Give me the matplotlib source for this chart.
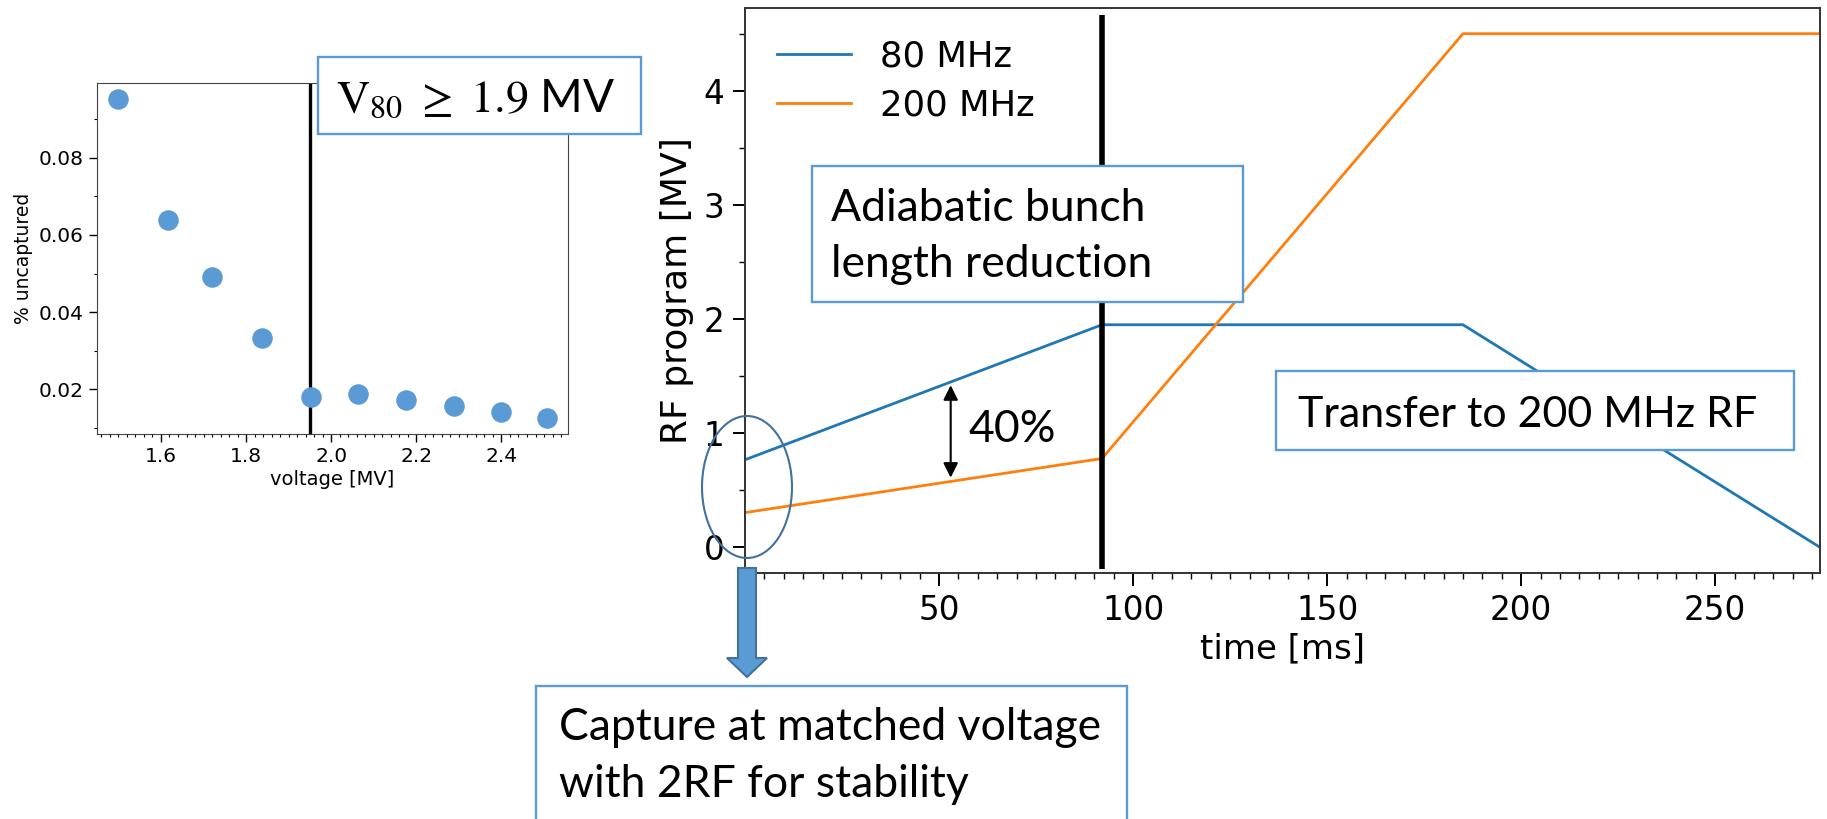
import matplotlib
matplotlib.use("Agg")
import matplotlib.pyplot as plt
import matplotlib.patches as mpatches
import matplotlib.transforms as mtransforms
from matplotlib.ticker import AutoMinorLocator

W, H = 1827, 819

# Left panel: fraction of uncaptured particles vs 80 MHz voltage
voltage = [1.50, 1.617, 1.72, 1.837, 1.952, 2.062, 2.175, 2.288, 2.40, 2.506]
uncaptured = [0.0953, 0.0640, 0.0490, 0.0334, 0.0180, 0.0188, 0.0172, 0.0157, 0.0140, 0.0125]
v_threshold = 1.95

# Right panel: RF voltage program
t_80 = [0, 92, 185, 277]
v_80 = [0.767, 1.95, 1.95, 0.0]
t_200 = [0, 92, 185, 277]
v_200 = [0.304, 0.778, 4.5, 4.5]
t_switch = 92
ratio_t = 53
ratio_lo, ratio_hi = 0.61, 1.42

plt.rcParams['mathtext.fontset'] = 'stix'
box_font = 'Lato'
box_blue = '#5b9bd5'
dark_blue = '#41719c'

fig = plt.figure(figsize=(W / 100, H / 100), dpi=100)
# pixel coordinates, origin at top-left, for the slide annotations
pix = mtransforms.Affine2D().scale(1 / W, -1 / H).translate(0, 1) + fig.transFigure

#######################################
## Left panel                        ##
#######################################
ax1 = fig.add_axes([97 / W, 1 - 434 / H, 471 / W, 351 / H])
ax1.scatter(voltage, uncaptured, s=190, color=box_blue, zorder=3)
ax1.axvline(v_threshold, color='black', lw=2.4, zorder=2)
ax1.set_xlabel('voltage [MV]', fontsize=14, labelpad=3)
ax1.set_ylabel('% uncaptured', fontsize=13.5, labelpad=4)
ax1.set_xticks([1.6, 1.8, 2.0, 2.2, 2.4])
ax1.set_yticks([0.02, 0.04, 0.06, 0.08])
ax1.xaxis.set_minor_locator(AutoMinorLocator(10))
ax1.yaxis.set_minor_locator(AutoMinorLocator(2))
ax1.tick_params(which='major', length=6, width=1, labelsize=14.5)
ax1.tick_params(which='minor', length=2.5, width=0.8)
for sp in ax1.spines.values():
    sp.set_color('#444444')

#######################################
## Right panel                       ##
#######################################
ax2 = fig.add_axes([745 / W, 1 - 573 / H, 1075 / W, 565 / H])
ax2.plot(t_80, v_80, color='#1f77b4', lw=2, label='80 MHz')
ax2.plot(t_200, v_200, color='#ff7f0e', lw=2, label='200 MHz')
ax2.vlines(t_switch, -0.19, 4.66, color='black', lw=4)
ax2.set_xlim(0, 277)
ax2.set_ylim(-0.225, 4.725)
ax2.set_xlabel('time [ms]', fontsize=24.5, labelpad=4)
ax2.set_ylabel('RF program [MV]', fontsize=26, labelpad=7)
ax2.set_xticks([0, 50, 100, 150, 200, 250])
ax2.set_yticks([0, 1, 2, 3, 4])
ax2.xaxis.set_minor_locator(AutoMinorLocator(10))
ax2.yaxis.set_minor_locator(AutoMinorLocator(2))
ax2.tick_params(which='major', length=9, width=1.4, labelsize=23.5, pad=6)
ax2.tick_params(which='minor', length=4, width=1)
for sp in ax2.spines.values():
    sp.set_color('#333333')
    sp.set_linewidth(1.4)
ax2.legend(loc='upper left', frameon=False, fontsize=25.5,
           handlelength=2.1, handletextpad=0.8, labelspacing=0.42)

# 40 % ratio arrow between the two programs
ax2.annotate('', xy=(ratio_t, ratio_lo), xytext=(ratio_t, ratio_hi),
             arrowprops=dict(arrowstyle='<|-|>', color='black', lw=1.5,
                             mutation_scale=22, shrinkA=0, shrinkB=0))
fig.text(968, 442, '40%', transform=pix, fontsize=32, family=box_font,
         va='baseline', ha='left')

#######################################
## Slide annotations                 ##
#######################################
def box(x0, y0, x1, y1):
    fig.add_artist(mpatches.Rectangle((x0, y0), x1 - x0, y1 - y0, transform=pix,
                                      facecolor='white', edgecolor=box_blue,
                                      lw=1.7, zorder=4))

box(318, 57, 641, 134)
fig.text(336, 112, r'$\mathrm{V}_{80}\ \geq\ 1.9$ MV', transform=pix,
         fontsize=33, family=box_font, va='baseline', zorder=5)

box(812, 166, 1243, 302)
fig.text(831, 221, 'Adiabatic bunch', transform=pix, fontsize=32,
         family=box_font, va='baseline', zorder=5)
fig.text(831, 277, 'length reduction', transform=pix, fontsize=32,
         family=box_font, va='baseline', zorder=5)

box(1276, 371, 1794, 450)
fig.text(1298, 427, 'Transfer to 200 MHz RF', transform=pix, fontsize=31,
         family=box_font, va='baseline', zorder=5)

box(536, 686, 1127, 840)
fig.text(559, 740, 'Capture at matched voltage', transform=pix, fontsize=32,
         family=box_font, va='baseline', zorder=5)
fig.text(559, 797, 'with 2RF for stability', transform=pix, fontsize=32,
         family=box_font, va='baseline', zorder=5)

# ellipse around the capture point and block arrow down to its box
fig.add_artist(mpatches.Ellipse((747, 487), 90, 142, transform=pix, fill=False,
                                edgecolor=dark_blue, lw=1.5, zorder=4))
arrow_pts = [(738, 568), (756, 568), (756, 658), (767, 658),
             (747, 677), (727, 658), (738, 658)]
fig.add_artist(mpatches.Polygon(arrow_pts, closed=True, transform=pix,
                                facecolor=box_blue, edgecolor=dark_blue,
                                lw=1.5, zorder=4))

fig.savefig('out.png', dpi=100)
